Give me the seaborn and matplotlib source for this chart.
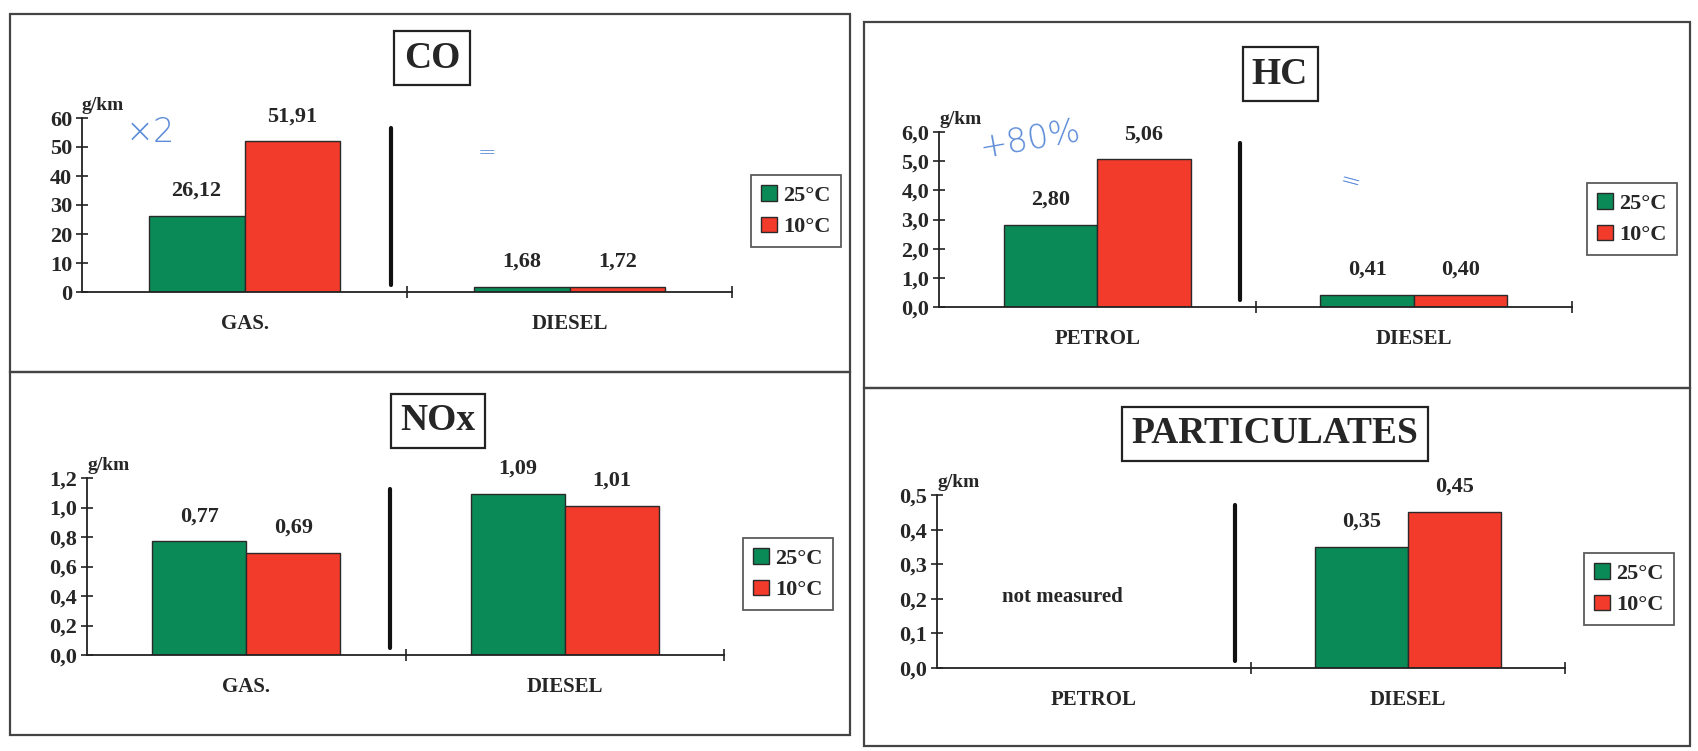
import numpy as np
import pandas as pd
import matplotlib
matplotlib.use("Agg")
import matplotlib.pyplot as plt
from matplotlib.patches import Rectangle
from matplotlib.ticker import FuncFormatter
import seaborn as sns

# figure size in pixels (dpi 100)
W, H = 1698, 751

temps = ["25°C", "10°C"]
colors = ["#0a8a56", "#f23b2b"]

co_fuels = ["GAS.", "DIESEL"]
co_25 = [26.12, 1.68]
co_10 = [51.91, 1.72]
co_ticks = [0, 10, 20, 30, 40, 50, 60]

hc_fuels = ["PETROL", "DIESEL"]
hc_25 = [2.80, 0.41]
hc_10 = [5.06, 0.40]
hc_ticks = [0, 1, 2, 3, 4, 5, 6]

nox_fuels = ["GAS.", "DIESEL"]
nox_25 = [0.77, 1.09]
nox_10 = [0.69, 1.01]
nox_ticks = [0, 0.2, 0.4, 0.6, 0.8, 1.0, 1.2]

pm_fuels = ["PETROL", "DIESEL"]
pm_25 = [np.nan, 0.35]   # petrol: not measured
pm_10 = [np.nan, 0.45]
pm_ticks = [0, 0.1, 0.2, 0.3, 0.4, 0.5]

sns.set_style("white")
plt.rcParams["font.family"] = ["Liberation Serif", "DejaVu Serif"]
plt.rcParams["font.weight"] = "bold"

fig = plt.figure(figsize=(W / 100, H / 100), dpi=100)


def fx(x):
    return x / W


def fy(y):
    return 1 - y / H


def comma(v, decimals):
    return f"{v:.{decimals}f}".replace(".", ",")


def panel(box, fuels, v25, v10, ticks, decimals, title, title_xy, leg_xy):
    left, right, top, bottom = box
    ax = fig.add_axes([fx(left), fy(bottom), (right - left) / W, (bottom - top) / H])

    df = pd.DataFrame({
        "fuel": list(fuels) * 2,
        "temp": [temps[0]] * len(fuels) + [temps[1]] * len(fuels),
        "value": list(v25) + list(v10),
    }).dropna()
    sns.barplot(data=df, x="fuel", y="value", hue="temp", order=fuels,
                hue_order=temps, palette=colors, saturation=1, width=0.59,
                errorbar=None, edgecolor="#2a2a2a", linewidth=1.0, ax=ax)

    for c in ax.containers:
        ax.bar_label(c, labels=[comma(v, 2) for v in c.datavalues],
                     padding=11, fontsize=16, fontweight="bold")

    ax.set_xlim(-0.5, 1.5)
    ax.set_ylim(0, ticks[-1])
    ax.set_yticks(ticks)
    ax.yaxis.set_major_formatter(FuncFormatter(lambda v, p: comma(v, decimals)))
    ax.set_xticks([0, 1])
    ax.set_xticklabels(fuels)
    ax.set_xticks([0.5, 1.5], minor=True)
    ax.set_xlabel("")
    ax.set_ylabel("")
    for s in ["top", "right"]:
        ax.spines[s].set_visible(False)
    for s in ["left", "bottom"]:
        ax.spines[s].set_color("#222222")
        ax.spines[s].set_linewidth(1.3)
    ax.tick_params(axis="y", direction="inout", length=8, width=1.2,
                   labelsize=16, pad=3, left=True, color="#222222")
    ax.tick_params(axis="x", which="major", length=0, pad=16, labelsize=15)
    ax.tick_params(axis="x", which="minor", direction="inout", length=9,
                   width=1.2, bottom=True, color="#222222")
    ax.patch.set_alpha(0)

    ax.annotate("g/km", xy=(0, 1), xycoords="axes fraction", xytext=(0, 3),
                textcoords="offset points", ha="left", va="bottom", fontsize=14)

    # hand-drawn separator between the two fuel groups
    ax.axvline(0.45, ymin=0.04, ymax=0.94, color="#111111", lw=3)

    handles, labels = ax.get_legend_handles_labels()
    if ax.get_legend() is not None:
        ax.get_legend().remove()
    leg = ax.legend(handles, labels, loc="upper left",
                    bbox_to_anchor=(fx(leg_xy[0]), fy(leg_xy[1])),
                    bbox_transform=fig.transFigure, frameon=True, fancybox=False,
                    edgecolor="#333333", fontsize=16, handlelength=0.7,
                    handleheight=0.7, handletextpad=0.3, borderpad=0.45,
                    labelspacing=0.5, borderaxespad=0)
    leg.get_frame().set_linewidth(1.3)

    fig.text(fx(title_xy[0]), fy(title_xy[1]), title, ha="center", va="center",
             fontsize=27, fontweight="bold",
             bbox=dict(boxstyle="square,pad=0.25", fc="white", ec="#222222", lw=1.6))
    return ax


panel((82, 732, 118, 292), co_fuels, co_25, co_10, co_ticks, 0, "CO", (432, 58), (751, 175))
panel((939, 1572, 132, 307), hc_fuels, hc_25, hc_10, hc_ticks, 1, "HC", (1280, 74), (1587, 183))
panel((87, 724, 478, 655), nox_fuels, nox_25, nox_10, nox_ticks, 1, "NOx", (438, 421), (743, 538))
ax_pm = panel((937, 1565, 495, 668), pm_fuels, pm_25, pm_10, pm_ticks, 1,
              "PARTICULATES", (1275, 434), (1584, 553))
ax_pm.text(0.2, 0.41, "not measured", transform=ax_pm.transAxes, ha="center",
           va="center", fontsize=15, fontweight="bold")

# panel frames
for (l, r, t, b) in [(10, 850, 14, 372), (864, 1690, 22, 388),
                     (10, 850, 372, 735), (864, 1690, 388, 746)]:
    fig.add_artist(Rectangle((fx(l), fy(b)), (r - l) / W, (b - t) / H,
                             transform=fig.transFigure, fill=False,
                             ec="#444444", lw=1.6))

# handwritten notes
blue = "#5b8bd8"
fig.text(fx(150), fy(132), "×2", color=blue, fontsize=24, family="DejaVu Sans",
         fontweight="light", ha="center", va="center")
fig.text(fx(487), fy(153), "=", color=blue, fontsize=16, family="DejaVu Sans",
         fontweight="light", ha="center", va="center")
fig.text(fx(1030), fy(140), "+80%", color=blue, fontsize=24, family="DejaVu Sans",
         fontweight="light", ha="center", va="center", rotation=10)
fig.text(fx(1350), fy(182), "=", color=blue, fontsize=18, family="DejaVu Sans",
         fontweight="light", ha="center", va="center", rotation=-15)

fig.savefig("out.png", dpi=100, facecolor="white")
